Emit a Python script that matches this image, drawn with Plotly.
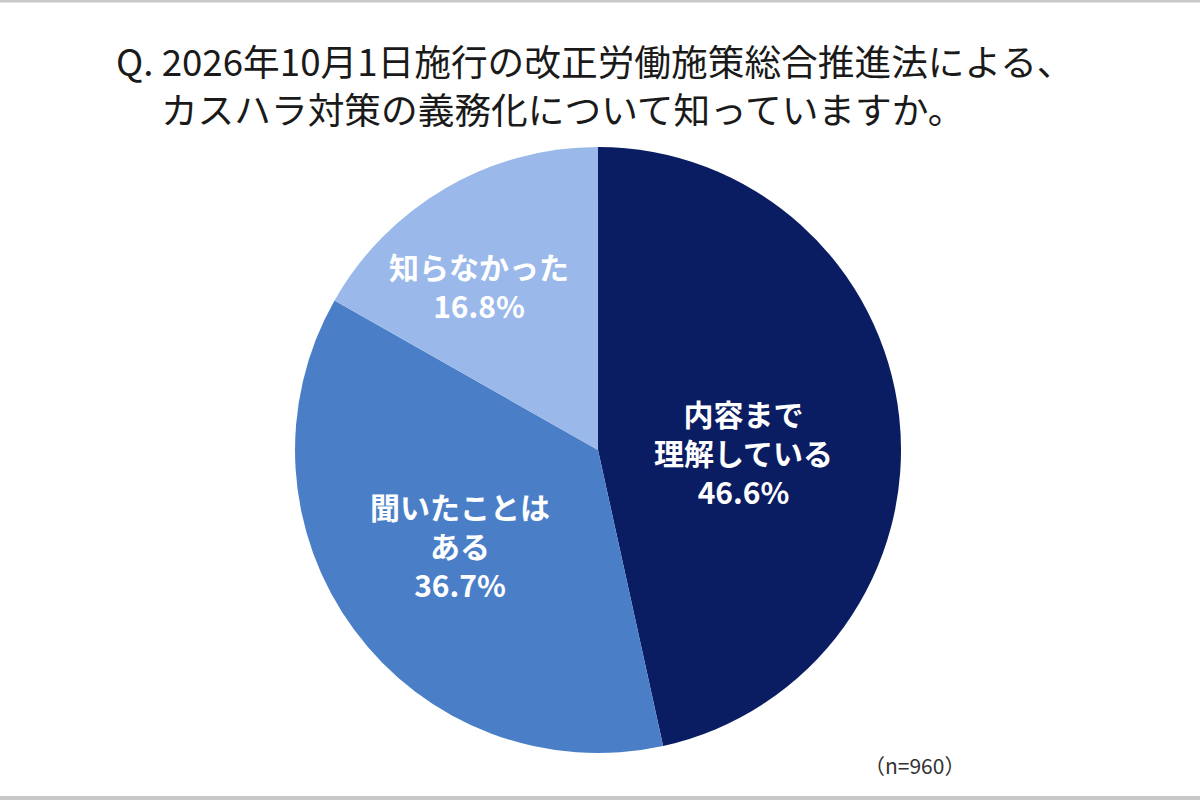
import plotly.graph_objects as go

# 回答データ
labels = ['内容まで<br>理解している', '聞いたことは<br>ある', '知らなかった']
values = [46.6, 36.7, 16.8]
colors = ['#0b1d62', '#4a7fc8', '#9ab9ea']

title_line1 = 'Q. 2026年10月1日施行の改正労働施策総合推進法による、'
title_line2 = 'カスハラ対策の義務化について知っていますか。'
note = '（n=960）'

fig = go.Figure()
fig.add_trace(go.Pie(
    labels=labels, values=values, sort=False, direction='clockwise', rotation=0,
    marker=dict(colors=colors, line=dict(width=0)),
    textinfo='none', hoverinfo='label+percent', showlegend=False,
    domain=dict(x=[0.2417, 0.755], y=[0.05875, 0.81625]),
))

# ラベル位置（ピクセル座標 → paper）
label_pos = [(743, 452), (460, 545), (479, 286)]
for lab, v, (px_, py_) in zip(labels, values, label_pos):
    fig.add_annotation(
        x=px_ / 1200, y=1 - py_ / 800, xref='paper', yref='paper',
        text='<b>' + lab + '<br>' + f'{v:.1f}%' + '</b>', showarrow=False,
        font=dict(size=30, color='white', family='Noto Sans CJK JP'),
        align='center', xanchor='center', yanchor='middle',
    )

# タイトル（2行目は字下げ）
fig.add_annotation(x=114 / 1200, y=1 - 84 / 800, xref='paper', yref='paper',
                   text=title_line1 + '<br>\u3000\u00a0' + title_line2, showarrow=False,
                   xanchor='left', yanchor='middle', align='left',
                   font=dict(size=36.7, color='#1a1a1a', family='Noto Sans CJK JP'))
fig.add_annotation(x=862 / 1200, y=1 - 765 / 800, xref='paper', yref='paper',
                   text=note, showarrow=False, xanchor='left', yanchor='middle',
                   font=dict(size=21, color='#333333', family='Noto Sans CJK JP'))

# 上下の枠線
fig.add_shape(type='line', xref='paper', yref='paper', x0=0, x1=1, y0=1 - 1 / 800, y1=1 - 1 / 800,
              line=dict(color='#c8c8c8', width=3))
fig.add_shape(type='line', xref='paper', yref='paper', x0=0, x1=1, y0=2 / 800, y1=2 / 800,
              line=dict(color='#c8c8c8', width=4))

fig.update_layout(
    width=1200, height=800,
    margin=dict(l=0, r=0, t=0, b=0),
    paper_bgcolor='white', plot_bgcolor='white',
)
fig.write_html('out.html', config={'displayModeBar': False},
               post_script="document.body.style.margin='0';")
